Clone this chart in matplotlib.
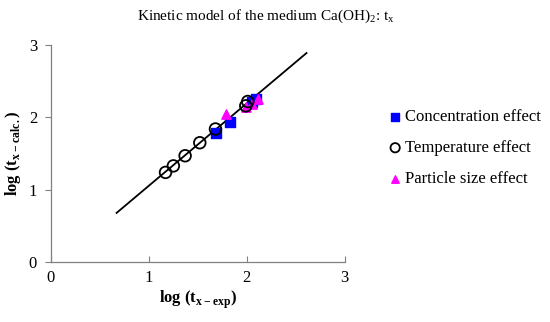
import matplotlib.pyplot as plt

# data
conc_x = [1.69, 1.83, 2.05, 2.09]
conc_y = [1.79, 1.94, 2.22, 2.25]
temp_x = [1.17, 1.25, 1.37, 1.52, 1.68, 1.99, 2.01]
temp_y = [1.24, 1.33, 1.47, 1.65, 1.84, 2.16, 2.22]
part_x = [1.79, 1.99, 2.05, 2.11]
part_y = [2.05, 2.14, 2.19, 2.25]
line_x = [0.67, 2.61]
line_y = [0.68, 2.89]

plt.rcParams['font.family'] = ['Liberation Serif', 'DejaVu Serif']
plt.rcParams['mathtext.fontset'] = 'custom'
plt.rcParams['mathtext.rm'] = 'Liberation Serif'

fig = plt.figure(figsize=(5.5, 3.22), dpi=100)
ax = fig.add_axes([0.0927, 0.186, 0.534, 0.674])

ax.plot(line_x, line_y, color='black', lw=1.3, zorder=1)
ax.scatter(temp_x, temp_y, s=70, facecolors='none', edgecolors='black',
           linewidths=1.3, zorder=3, label='Temperature effect')
ax.scatter(conc_x, conc_y, s=45, marker='s', color='#0000ff', zorder=2,
           label='Concentration effect')
ax.scatter(part_x, part_y, s=45, marker='^', color='#ff00ff', zorder=2,
           label='Particle size effect')

ax.set_xlim(0, 3)
ax.set_ylim(0, 3)
ax.set_xticks([0, 1, 2, 3])
ax.set_yticks([0, 1, 2, 3])
ax.spines['top'].set_visible(False)
ax.spines['right'].set_visible(False)
for s in ['left', 'bottom']:
    ax.spines[s].set_color('#808080')
    ax.spines[s].set_linewidth(0.9)
ax.tick_params(axis='y', direction='out', length=4, color='#808080', labelsize=12, pad=6)
ax.tick_params(axis='x', direction='in', length=4, color='#808080', labelsize=12, pad=6)

ax.set_xlabel(r'log (t$_{\mathregular{x - exp}}$)', fontsize=12, fontweight='bold', labelpad=2)
ax.set_ylabel(r'log (t$_{\mathregular{x - calc.}}$)', fontsize=12, fontweight='bold', labelpad=4)
fig.text(0.484, 0.95, r'Kinetic model of the medium Ca(OH)$_2$: t$_\mathregular{x}$',
         ha='center', va='center', fontsize=11)

h, l = ax.get_legend_handles_labels()
order = [1, 0, 2]
fig.legend([h[i] for i in order], [l[i] for i in order], loc='center left',
           bbox_to_anchor=(0.673, 0.54), frameon=False, fontsize=12,
           handletextpad=0.0, labelspacing=0.9, handlelength=1.2,
           markerscale=0.8)

fig.savefig('out.png', dpi=100)
